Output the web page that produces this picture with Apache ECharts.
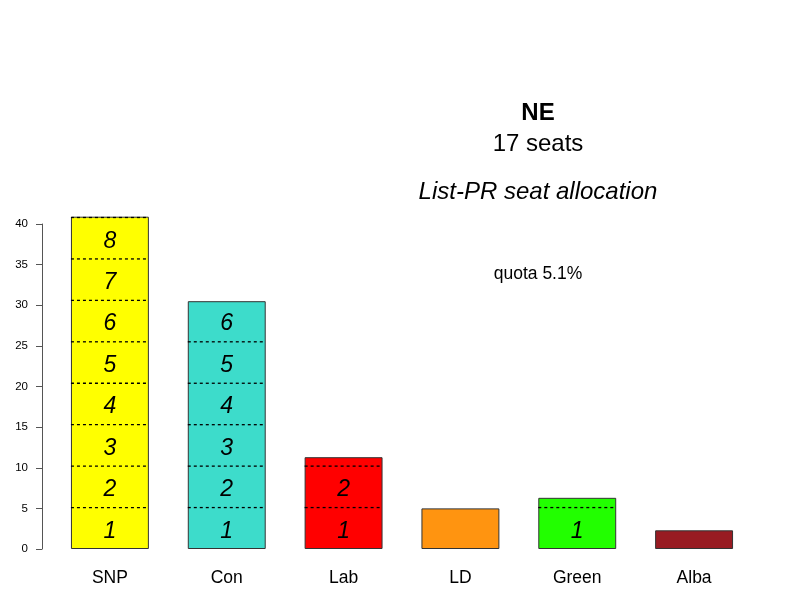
<!DOCTYPE html>
<html>
<head>
<meta charset="utf-8">
<style>
  html, body { margin: 0; padding: 0; background: #fff; }
  #chart { width: 800px; height: 600px; }
</style>
<script src="https://cdn.jsdelivr.net/npm/echarts@6/dist/echarts.min.js"></script>
</head>
<body>
<div id="chart"></div>
<script>
// Party vote shares (%) and List-PR seats won in the NE region
const parties = ['SNP', 'Con', 'Lab', 'LD', 'Green', 'Alba'];
const votes = [40.9, 30.5, 11.3, 5.0, 6.3, 2.3];
const seats = [8, 6, 2, 0, 1, 0];
const colors = ['#ffff00', '#3ddccb', '#ff0000', '#ff9410', '#22ff00', '#981b22'];
const quota = 5.1;
const yTicks = [0, 5, 10, 15, 20, 25, 30, 35, 40];

const FONT = '"Liberation Sans", Arial, Helvetica, sans-serif';

// one dashed quota line for every full quota inside each bar
const quotaLines = [];
votes.forEach((v, i) => {
  const n = Math.floor(v / quota + 1e-9);
  for (let k = 1; k <= n; k++) quotaLines.push([i, k * quota]);
});

// seat numbers centred in each quota band
const seatLabels = [];
seats.forEach((s, i) => {
  for (let k = 1; k <= s; k++) seatLabels.push([i, (k - 0.5) * quota, k]);
});

const chart = echarts.init(document.getElementById('chart'), null, { renderer: 'canvas' });

chart.setOption({
  animation: false,
  backgroundColor: '#ffffff',
  grid: { left: 51.5, right: 47.5, top: 224, bottom: 51 },
  xAxis: {
    type: 'category',
    data: parties,
    axisLine: { show: false },
    axisTick: { show: false },
    axisLabel: { fontFamily: FONT, fontSize: 17.5, color: '#000', margin: 20 }
  },
  yAxis: {
    type: 'value',
    min: yTicks[0],
    max: yTicks[yTicks.length - 1],
    interval: 5,
    offset: 9.5,
    splitLine: { show: false },
    axisLine: { show: true, lineStyle: { color: '#555', width: 1 } },
    axisTick: { show: true, inside: false, length: 6, lineStyle: { color: '#555' } },
    axisLabel: { fontFamily: FONT, fontSize: 11.5, color: '#000', margin: 14 }
  },
  series: [
    {
      type: 'bar',
      data: votes.map((v, i) => ({ value: v, itemStyle: { color: colors[i] } })),
      barWidth: '66.7%',
      clip: false,
      itemStyle: { borderColor: '#333', borderWidth: 1 }
    },
    {
      type: 'custom',
      data: quotaLines,
      clip: false,
      renderItem: (params, api) => {
        const c = api.coord([api.value(0), api.value(1)]);
        const half = api.size([1, 0])[0] * 0.667 / 2;
        return {
          type: 'line',
          shape: { x1: c[0] - half, y1: c[1], x2: c[0] + half, y2: c[1] },
          style: { stroke: '#000', lineWidth: 1.3, lineDash: [3, 3] }
        };
      },
      z: 5
    },
    {
      type: 'custom',
      data: seatLabels,
      clip: false,
      renderItem: (params, api) => {
        const c = api.coord([api.value(0), api.value(1)]);
        return {
          type: 'text',
          x: c[0],
          y: c[1] + 3,
          style: {
            text: String(api.value(2)),
            fill: '#000',
            font: 'italic 23px ' + FONT,
            align: 'center',
            verticalAlign: 'middle'
          }
        };
      },
      z: 6
    }
  ],
  graphic: [
    { type: 'text', x: 538, y: 113, style: { text: 'NE', font: 'bold 24px ' + FONT, fill: '#000', align: 'center', verticalAlign: 'middle' } },
    { type: 'text', x: 538, y: 144, style: { text: '17 seats', font: '24px ' + FONT, fill: '#000', align: 'center', verticalAlign: 'middle' } },
    { type: 'text', x: 538, y: 192, style: { text: 'List-PR seat allocation', font: 'italic 24px ' + FONT, fill: '#000', align: 'center', verticalAlign: 'middle' } },
    { type: 'text', x: 538, y: 274, style: { text: 'quota ' + quota + '%', font: '17.5px ' + FONT, fill: '#000', align: 'center', verticalAlign: 'middle' } }
  ]
});
</script>
</body>
</html>
